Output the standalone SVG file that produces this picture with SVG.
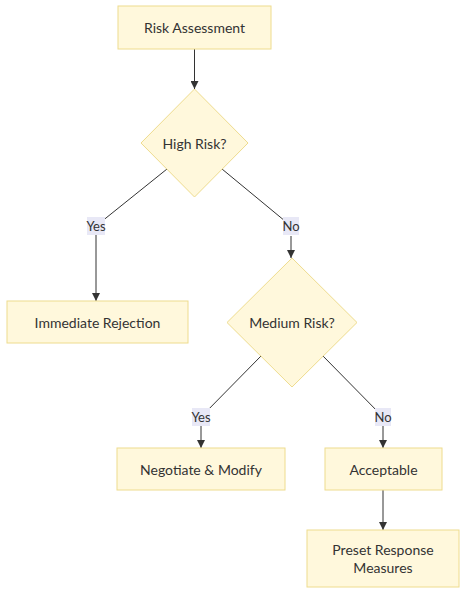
<svg xmlns="http://www.w3.org/2000/svg" width="466" height="594" viewBox="0 0 466 594">
<style>
.node{fill:#fff8dc;stroke:#eedc8e;stroke-width:1}
.t{font-family:Lato,"Noto Sans",sans-serif;font-size:14px;fill:#333;text-anchor:middle;dominant-baseline:central}
.e{stroke:#333;stroke-width:1;fill:none}
.lb{fill:#e8e8f6}
.lt{font-family:Lato,"Noto Sans",sans-serif;font-size:13px;fill:#333;text-anchor:middle;dominant-baseline:central}
</style>
<defs>
<marker id="arr" viewBox="0 0 10 10" refX="10" refY="5" markerWidth="8" markerHeight="8" markerUnits="userSpaceOnUse" orient="auto">
<path d="M0,0 L10,5 L0,10 z" fill="#333"/>
</marker>
</defs>
<rect width="466" height="594" fill="#fff"/>
<g id="connectors">
<path class="e" d="M194.5,49 L194.5,89" marker-end="url(#arr)"/>
<path class="e" d="M167,169 L96,226"/>
<path class="e" d="M96,235 L96,301" marker-end="url(#arr)"/>
<path class="e" d="M222,169 L291,226"/>
<path class="e" d="M291,236 L291,258" marker-end="url(#arr)"/>
<path class="e" d="M262,355 L201,417"/>
<path class="e" d="M201,426 L201,448" marker-end="url(#arr)"/>
<path class="e" d="M322,355 L383,417"/>
<path class="e" d="M383,426 L383,448" marker-end="url(#arr)"/>
<path class="e" d="M383,490 L383,530" marker-end="url(#arr)"/>
</g>
<g id="label-yes1"><rect class="lb" x="87" y="217" width="18" height="18"/><text class="lt" x="96" y="226">Yes</text></g>
<g id="label-no1"><rect class="lb" x="283" y="217" width="16" height="18"/><text class="lt" x="291" y="226">No</text></g>
<g id="label-yes2"><rect class="lb" x="192" y="408" width="18" height="18"/><text class="lt" x="201" y="417">Yes</text></g>
<g id="label-no2"><rect class="lb" x="375" y="408" width="16" height="18"/><text class="lt" x="383" y="417">No</text></g>
<g id="risk-assessment"><rect class="node" x="118" y="6" width="153" height="43"/><text class="t" x="194.5" y="27.5">Risk Assessment</text></g>
<g id="high-risk"><polygon class="node" points="194.5,89 248,143 194.5,197 141,143"/><text class="t" x="194.5" y="143">High Risk?</text></g>
<g id="immediate-rejection"><rect class="node" x="7" y="301" width="181" height="42"/><text class="t" x="97.5" y="322">Immediate Rejection</text></g>
<g id="medium-risk"><polygon class="node" points="292,258 357,322.5 292,387 227,322.5"/><text class="t" x="292" y="322.5">Medium Risk?</text></g>
<g id="negotiate"><rect class="node" x="117" y="448" width="168" height="42"/><text class="t" x="201" y="469">Negotiate &amp; Modify</text></g>
<g id="acceptable"><rect class="node" x="325" y="448" width="117" height="42"/><text class="t" x="383.5" y="469">Acceptable</text></g>
<g id="preset"><rect class="node" x="307" y="530" width="152" height="57"/><text class="t" x="383" y="549.5">Preset Response</text><text class="t" x="383" y="567">Measures</text></g>
</svg>
